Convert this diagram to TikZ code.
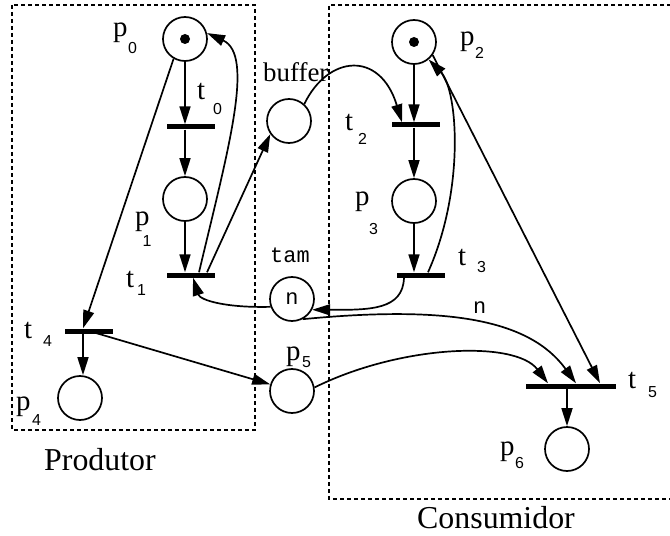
\documentclass[tikz,border=0pt]{standalone}
\usepackage{fontspec}
\setmainfont{Liberation Serif}
\setsansfont{Liberation Sans}
\setmonofont{Liberation Mono}
\usetikzlibrary{arrows.meta,calc}
\newcommand\plab[4]{{\fontsize{29}{32}\selectfont #1}\hspace*{#3bp}\raisebox{-#4bp}{\sffamily\fontsize{16}{18}\selectfont #2}}
\begin{document}
\begin{tikzpicture}[x=1bp,y=-1bp,
  place/.style={circle,draw,line width=1.7bp,minimum size=44bp,inner sep=0pt},
  trans/.style={rectangle,fill=black,minimum width=48bp,minimum height=5bp,inner sep=0pt},
  arc/.style={line width=1.7bp,-{Triangle[length=18bp,width=11bp]}},
  lbl/.style={anchor=base west,inner sep=0pt},
  serif/.style={anchor=base west,inner sep=0pt,font=\fontsize{27}{30}\selectfont},
  big/.style={anchor=base west,inner sep=0pt,font=\fontsize{32}{36}\selectfont},
  mono/.style={inner sep=0pt,font=\ttfamily\fontsize{22}{24}\selectfont},
  groupbox/.style={line width=1.6bp,dash pattern=on 4bp off 3bp},
  token/.style={circle,fill=black,minimum size=10bp,inner sep=0pt}
]
\useasboundingbox (0,0) rectangle (670,536);
% groups
\draw[groupbox] (12,5) rectangle (255,430);
\draw[groupbox] (671,5) -- (329,5) -- (329,499) -- (671,499);
% places
\node[place] (p0) at (185,39) {};
\node[token] (k0) at (p0.center) {};
\node[place] (p1) at (185,199) {};
\node[place] (buffer) at (289,121) {};
\node[place,mono] (tam) at (292,299) {n};
\node[place] (p2) at (414,42) {};
\node[token] (k2) at (p2.center) {};
\node[place] (p3) at (414,201) {};
\node[place] (p4) at (80,398) {};
\node[place] (p5) at (292,391) {};
\node[place] (p6) at (567,449) {};
% transitions
\node[trans] (t0) at (191,127) {};
\node[trans] (t1) at (191,275) {};
\node[trans] (t2) at (415.5,125) {};
\node[trans] (t3) at (420.5,275) {};
\node[trans] (t4) at (89,331) {};
\node[trans,minimum width=90bp] (t5) at (571,386) {};
\coordinate (t4s) at ($(t4.south)+(-6,0)$);
% arcs
\draw[arc] (p0.south) -- (p0.south |- t0.north);
\draw[arc] (p0.south |- t0.south) -- (p1.north);
\draw[arc] (p1.south) -- (p1.south |- t1.north);
\draw[arc] ($(t1.north)+(8,0)$) .. controls (228,150) and (255,55) .. (p0.15);
\draw[arc] ($(t1.north)+(16,0)$) -- (buffer.215);
\draw[arc] (buffer.48) .. controls (328,55) and (380,50) .. ($(t2.north)+(-13.5,0)$);
\draw[arc] (p2.south) -- (p2.south |- t2.north);
\draw[arc] (p2.south |- t2.south) -- (p3.north);
\draw[arc] (p3.south) -- (p3.south |- t3.north);
\draw[arc] ($(t3.north)+(7.5,0)$) .. controls (465,190) and (458,90) .. (p2.-50);
\draw[arc] (p2.-35) -- ($(t5.north)+(29,0)$);
\draw[arc] ($(t3.south)+(-16.5,0)$) .. controls (403,310) and (370,310) .. (tam.-28);
\draw[arc] (tam.200) .. controls (225,308) and (200,300) .. ($(t1.south)+(2,0)$);
\draw[arc] (tam.-62) .. controls (450,305) and (530,320) .. ($(t5.north)+(5,0)$);
\draw[arc] (p0.240) -- ($(t4.north)+(-6,0)$);
\draw[arc] (t4s) -- (t4s |- p4.north);
\draw[arc] (t4.center) -- (p5.163);
\draw[arc] (p5.9) .. controls (400,345) and (515,340) .. ($(t5.north)+(-23,0)$);
\draw[arc] (p6.north |- t5.south) -- (p6.north);
% labels
\node[lbl] (lp0) at (113,37) {\plab{p}{0}{0.5}{17}};
\node[lbl] (lt0) at (197,100) {\plab{t}{0}{8}{15}};
\node[lbl] (lp1) at (135,226) {\plab{p}{1}{-7}{21}};
\node[lbl] (lt1) at (126,287) {\plab{t}{1}{3}{8}};
\node[lbl] (lt4) at (24,338) {\plab{t}{4}{11}{8}};
\node[lbl] (lp4) at (16,410) {\plab{p}{4}{1.5}{15}};
\node[lbl] (lp5) at (286,360) {\plab{p}{5}{1.5}{7}};
\node[lbl] (lp2) at (460,46) {\plab{p}{2}{0.5}{13}};
\node[lbl] (lt2) at (345,131) {\plab{t}{2}{5}{14}};
\node[lbl] (lp3) at (355,206) {\plab{p}{3}{-0.5}{29}};
\node[lbl] (lt3) at (458,266) {\plab{t}{3}{11}{6}};
\node[lbl] (lt5) at (628,388) {\plab{t}{5}{12}{9}};
\node[lbl] (lp6) at (500,455) {\plab{p}{6}{0.5}{13}};
\node[serif] (lbuf) at (263,82) {buffer};
\node[mono,anchor=base west] (ltam) at (270,263) {tam};
\node[mono,anchor=base west] (lw) at (473,313) {n};
\node[big] (lprod) at (44,470) {Produtor};
\node[big] (lcons) at (417,528) {Consumidor};
\end{tikzpicture}
\end{document}
